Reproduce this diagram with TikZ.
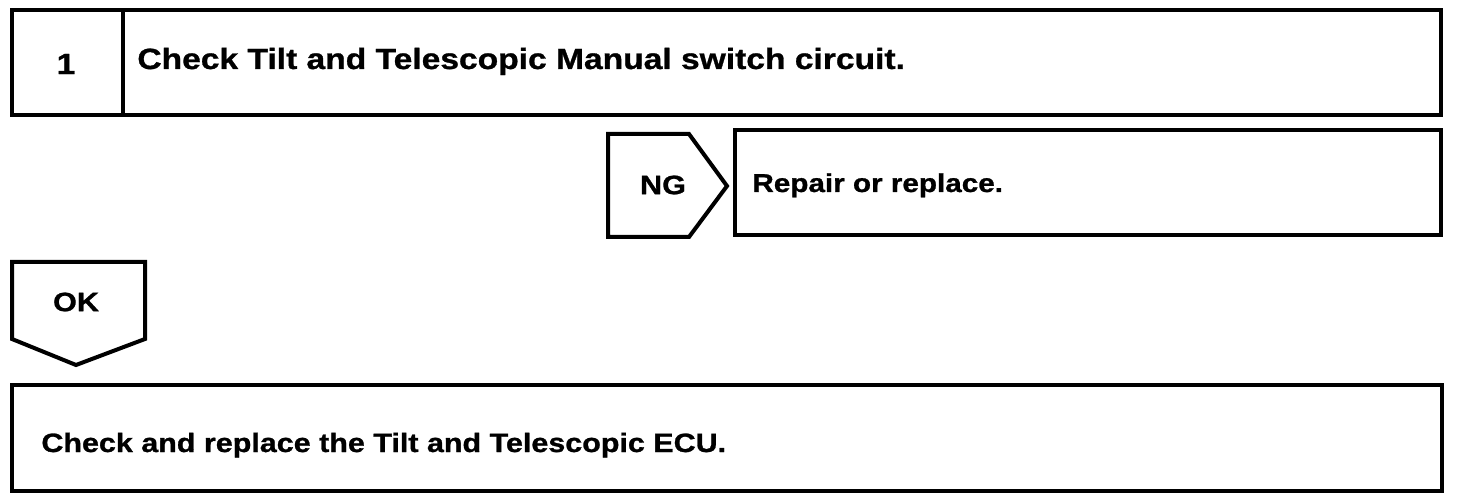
\documentclass[tikz,border=0pt]{standalone}
\usepackage{fontspec}
\newfontfamily\lab[FakeStretch=1.15, FakeBold=1.0]{Liberation Sans Bold}
\tikzset{
  frame/.style={draw=black, line width=2pt, line join=miter},
  lbl/.style={font=\lab\fontsize{13.25}{15}\selectfont, inner sep=0pt, text=black},
  big/.style={font=\lab\fontsize{14.6}{16}\selectfont},
  mid/.style={font=\lab\fontsize{12.9}{15}\selectfont},
  tag/.style={font=\lab\fontsize{13.3}{15}\selectfont},
}
\begin{document}
\begin{tikzpicture}[x=0.5pt, y=-0.5pt]
  \useasboundingbox[fill=white] (0,0) rectangle (1472,502);
  % top box
  \coordinate (tA) at (11.5,10);
  \coordinate (tB) at (1441,115);
  \draw[frame] (tA) rectangle (tB);
  \draw[frame] (123,10) -- (123,115);
  \node[lbl, big] (num) at (66,64) {1};
  \node[lbl, big, anchor=base west] (step1) at (137,69) {Check Tilt and Telescopic Manual switch circuit.};
  % NG
  \draw[frame] (608,134) -- (689,134) -- (727,186) -- (689,237) -- (608,237) -- cycle;
  \node[lbl, tag] (ng) at (663,185) {NG};
  \coordinate (rA) at (735,130);
  \coordinate (rB) at (1441,235);
  \draw[frame] (rA) rectangle (rB);
  \node[lbl, mid, anchor=base west] (repair) at (752,192) {Repair or replace.};
  % OK
  \draw[frame] (12,262) -- (145,262) -- (145,339) -- (76,365) -- (12,339) -- cycle;
  \node[lbl, tag] (ok) at (76,302) {OK};
  % bottom box
  \coordinate (bA) at (12,385);
  \coordinate (bB) at (1442,491);
  \draw[frame] (bA) rectangle (bB);
  \node[lbl, anchor=base west] (final) at (41,452) {Check and replace the Tilt and Telescopic ECU.};
\end{tikzpicture}
\end{document}
